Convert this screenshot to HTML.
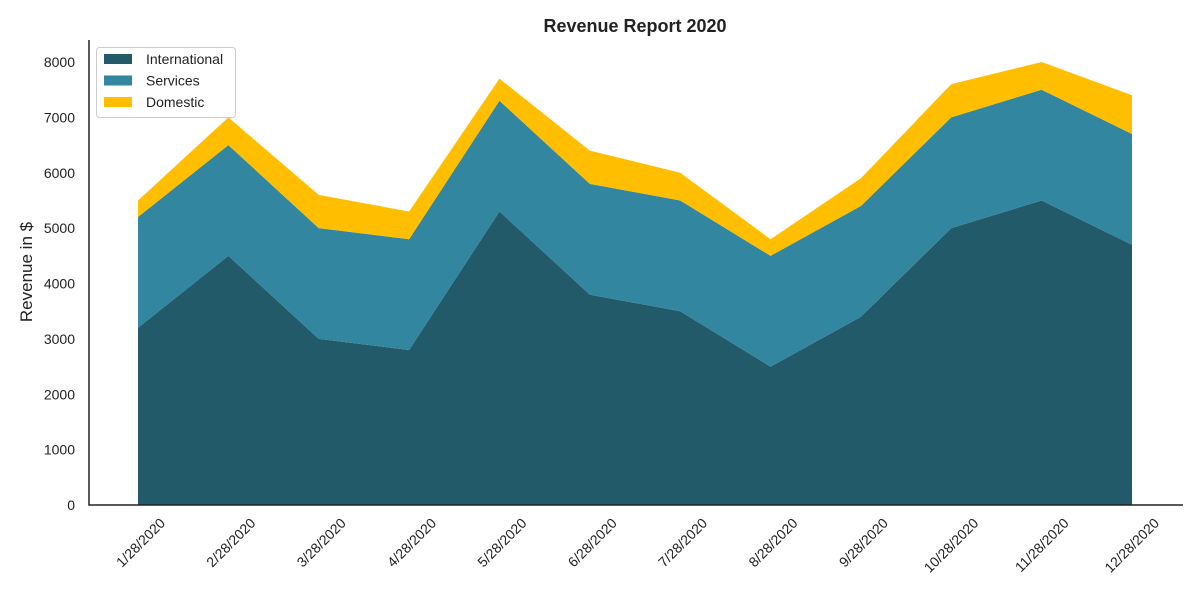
<!DOCTYPE html>
<html><head><meta charset="utf-8"><style>
body{margin:0;background:#fff;font-family:"Liberation Sans","DejaVu Sans",sans-serif}
</style></head><body>
<svg id="chart" width="1200" height="600" xmlns="http://www.w3.org/2000/svg"></svg>
<script>
const categories=["1/28/2020","2/28/2020","3/28/2020","4/28/2020","5/28/2020","6/28/2020","7/28/2020","8/28/2020","9/28/2020","10/28/2020","11/28/2020","12/28/2020"];
const international=[3200,4500,3000,2800,5300,3800,3500,2500,3400,5000,5500,4700];
const services=[2000,2000,2000,2000,2000,2000,2000,2000,2000,2000,2000,2000];
const domestic=[300,500,600,500,400,600,500,300,500,600,500,700];
const yTicks=[0,1000,2000,3000,4000,5000,6000,7000,8000];
const seriesNames=["International","Services","Domestic"];
const colors=["#235a69","#32869f","#ffbf00"];

const svg=document.getElementById('chart');
const NS="http://www.w3.org/2000/svg";
function mk(t,a,p){const e=document.createElementNS(NS,t);for(const k in a)e.setAttribute(k,a[k]);(p||svg).appendChild(e);return e;}
const x0=138,x1=1132,yb=505,yPer=443/8000;
const X=i=>x0+(x1-x0)*i/(categories.length-1);
const Y=v=>yb-v*yPer;

const series=[international,services,domestic];
let base=categories.map(()=>0);
series.forEach((s,si)=>{
  const top=base.map((b,i)=>b+s[i]);
  let d=top.map((v,i)=>(i?'L':'M')+X(i)+','+Y(v)).join('');
  for(let i=categories.length-1;i>=0;i--)d+='L'+X(i)+','+Y(base[i]);
  const p=mk('path',{d:d+'Z',fill:colors[si]});
  
  
  base=top;
});

const ax=mk('path',{d:'M89,40V505H1183',stroke:'#222',fill:'none','stroke-width':1.5});



yTicks.forEach(v=>{
  const t=mk('text',{x:75,y:Y(v)+5,'text-anchor':'end','font-size':14,fill:'#222'});
  t.textContent=v;
  
  
});
categories.forEach((c,i)=>{
  const ax_=X(i)+28, ay=524;
  const t=mk('text',{x:ax_,y:ay,'text-anchor':'end','font-size':14,fill:'#222',transform:`rotate(-45 ${ax_} ${ay})`});
  t.textContent=c;
  
  
});
const yl=mk('text',{x:32,y:272,'text-anchor':'middle','font-size':17,fill:'#222',transform:'rotate(-90 32 272)'});
yl.textContent='Revenue in $';


const ti=mk('text',{x:635,y:32,'text-anchor':'middle','font-size':18,'font-weight':'bold',fill:'#222'});
ti.textContent='Revenue Report 2020';



const lg=mk('g',{});


mk('rect',{x:96.5,y:47.5,width:139,height:70,rx:3,fill:'#fff',stroke:'#ccc'},lg);
seriesNames.forEach((n,i)=>{
  const g=mk('g',{},lg);
  
  
  mk('rect',{x:104,y:54+i*21.5,width:28,height:10,fill:colors[i]},g);
  const t=mk('text',{x:146,y:64+i*21.5,'font-size':14,fill:'#222'},g);
  t.textContent=n;
});
</script>
</body></html>
